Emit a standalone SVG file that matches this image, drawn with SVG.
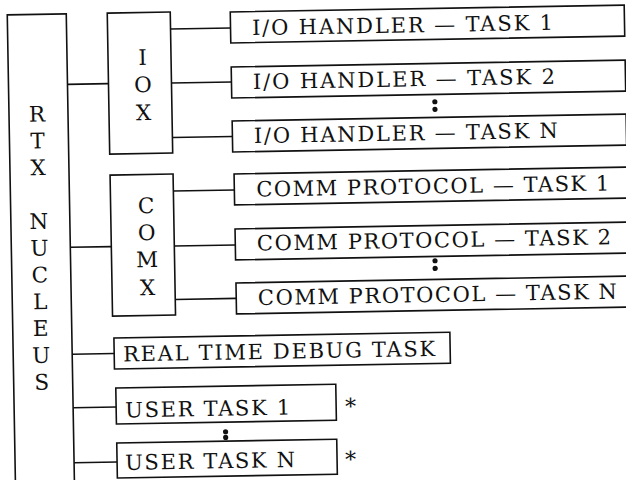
<svg xmlns="http://www.w3.org/2000/svg" width="626" height="480" viewBox="0 0 626 480">
<style>
.box{fill:#fff;stroke:#111;stroke-width:1.6}
.ln{stroke:#111;stroke-width:1.6;fill:none}
.t{font-family:"DejaVu Serif","Liberation Serif",serif;font-size:21px;fill:#111}
.v{font-family:"DejaVu Serif","Liberation Serif",serif;font-size:21.5px;fill:#111;text-anchor:middle}
.dot{fill:#111}
</style>
<rect width="626" height="480" fill="#fff"/>
<g transform="rotate(-1)">
<g id="connectors">
<line class="ln" x1="66" y1="85.5" x2="107" y2="85.5"/>
<line class="ln" x1="66" y1="248.5" x2="107" y2="248.5"/>
<line class="ln" x1="66" y1="355.5" x2="108" y2="355.5"/>
<line class="ln" x1="66" y1="409" x2="109" y2="409"/>
<line class="ln" x1="66" y1="464" x2="109" y2="464"/>
<line class="ln" x1="170" y1="32" x2="230" y2="32"/>
<line class="ln" x1="170" y1="86" x2="230" y2="86"/>
<line class="ln" x1="170" y1="140.5" x2="230" y2="140.5"/>
<line class="ln" x1="170" y1="194" x2="231" y2="194"/>
<line class="ln" x1="170" y1="249" x2="231" y2="249"/>
<line class="ln" x1="170" y1="302.5" x2="231" y2="302.5"/>
</g>
<g id="rtx">
<rect class="box" x="7" y="15" width="59" height="480"/>
<text class="v" x="35" y="122.2">R</text>
<text class="v" x="35" y="149">T</text>
<text class="v" x="35" y="175.8">X</text>
<text class="v" x="35" y="229.4">N</text>
<text class="v" x="35" y="256.2">U</text>
<text class="v" x="35" y="283">C</text>
<text class="v" x="35" y="309.8">L</text>
<text class="v" x="35" y="336.6">E</text>
<text class="v" x="35" y="363.4">U</text>
<text class="v" x="35" y="390.2">S</text>
</g>
<g id="iox">
<rect class="box" x="107" y="15" width="63" height="141"/>
<text class="v" x="141.5" y="67.5">I</text>
<text class="v" x="141.5" y="94.5">O</text>
<text class="v" x="141.5" y="122.5">X</text>
</g>
<g id="comx">
<rect class="box" x="107" y="177" width="63" height="141"/>
<text class="v" x="142.5" y="215.6">C</text>
<text class="v" x="142.5" y="242.6">O</text>
<text class="v" x="142.5" y="269.6">M</text>
<text class="v" x="142.5" y="297.6">X</text>
</g>
<g id="io1">
<rect class="box" x="230" y="16" width="394" height="31"/>
<text class="t" x="251.5" y="39.5" textLength="301">I/O HANDLER — TASK 1</text>
</g>
<g id="io2">
<rect class="box" x="230" y="71" width="394" height="31"/>
<text class="t" x="251.5" y="93.5" textLength="302">I/O HANDLER — TASK 2</text>
</g>
<circle class="dot" cx="433" cy="109.3" r="2.6"/>
<circle class="dot" cx="433" cy="116.9" r="2.6"/>
<g id="ioN">
<rect class="box" x="230" y="125" width="394" height="31"/>
<text class="t" x="251.5" y="147.5" textLength="304">I/O HANDLER — TASK N</text>
</g>
<g id="comm1">
<rect class="box" x="231" y="178" width="420" height="31"/>
<text class="t" x="253" y="201" textLength="353">COMM PROTOCOL — TASK 1</text>
</g>
<g id="comm2">
<rect class="box" x="231" y="233" width="420" height="31"/>
<text class="t" x="252.7" y="255" textLength="354">COMM PROTOCOL — TASK 2</text>
</g>
<circle class="dot" cx="430.4" cy="268.3" r="2.6"/>
<circle class="dot" cx="430.4" cy="275.9" r="2.6"/>
<g id="commN">
<rect class="box" x="231" y="287" width="420" height="31"/>
<text class="t" x="252.7" y="309.5" textLength="359">COMM PROTOCOL — TASK N</text>
</g>
<g id="debug">
<rect class="box" x="108" y="340" width="336" height="31"/>
<text class="t" x="117" y="363.5" textLength="312">REAL TIME DEBUG TASK</text>
</g>
<g id="user1">
<rect class="box" x="109" y="390" width="220" height="36"/>
<text class="t" x="118" y="419.5" textLength="165">USER TASK 1</text>
<text class="t" x="338" y="420" style="font-size:22px">*</text>
</g>
<circle class="dot" cx="218" cy="435.6" r="2.6"/>
<circle class="dot" cx="218" cy="441.3" r="2.6"/>
<g id="userN">
<rect class="box" x="109" y="445" width="220" height="35"/>
<text class="t" x="117" y="472" textLength="170">USER TASK N</text>
<text class="t" x="337" y="473" style="font-size:22px">*</text>
</g>
</g>
</svg>
